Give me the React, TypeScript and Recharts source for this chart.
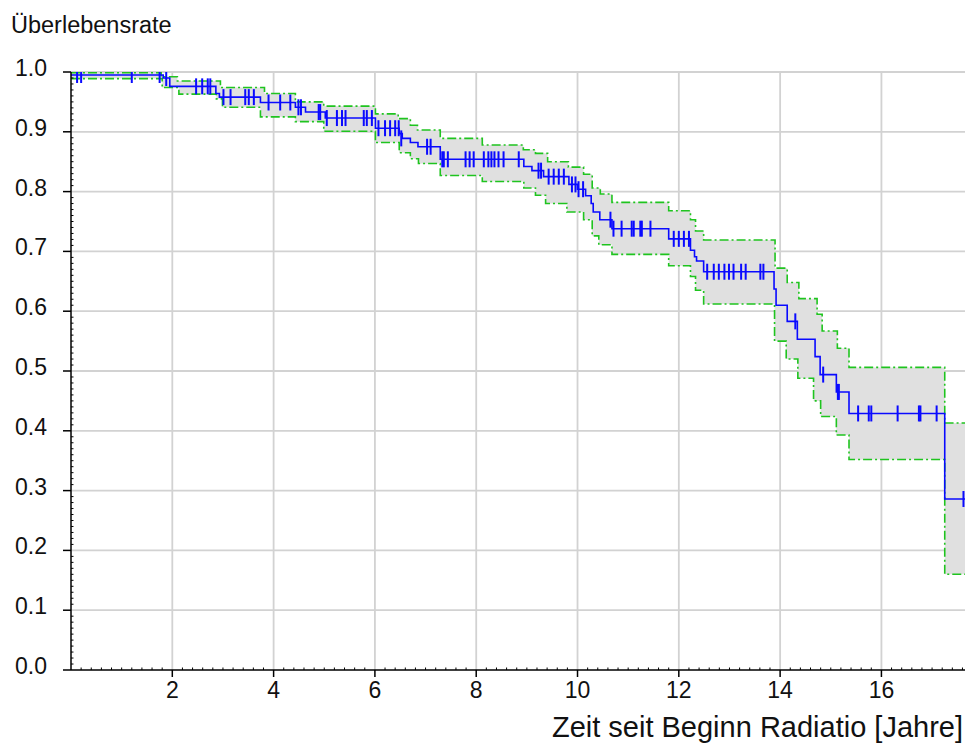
import React from "react";
import {
  ComposedChart,
  Line,
  Area,
  Scatter,
  XAxis,
  YAxis,
  CartesianGrid,
} from "recharts";

// ---- Kaplan-Meier estimate (step starts) ----
const survTimes = [0, 1.82, 1.95, 2.86, 2.93, 3.74, 4.43, 4.63, 5.02, 6.01, 6.48, 6.54, 6.7, 6.85, 7.29, 8.94, 9.1, 9.33, 9.83, 10.0, 10.16, 10.27, 10.31, 10.44, 10.68, 11.8, 12.23, 12.31, 12.35, 12.49, 13.88, 13.92, 14.14, 14.34, 14.69, 14.79, 15.11, 15.36, 17.25, 17.65];
const survValues = [0.995, 0.99, 0.976, 0.964, 0.958, 0.949, 0.941, 0.933, 0.923, 0.906, 0.897, 0.889, 0.882, 0.875, 0.854, 0.842, 0.835, 0.825, 0.812, 0.804, 0.793, 0.78, 0.766, 0.753, 0.738, 0.721, 0.702, 0.691, 0.684, 0.666, 0.637, 0.61, 0.583, 0.553, 0.524, 0.494, 0.465, 0.429, 0.286, 0.286];

// ---- upper confidence bound ----
const upperTimes = [0, 1.78, 2.1, 2.95, 3.82, 4.43, 4.99, 6.01, 6.46, 6.7, 6.84, 7.29, 8.12, 8.93, 9.17, 9.41, 9.82, 10.12, 10.29, 10.45, 10.68, 11.8, 12.23, 12.33, 12.49, 13.9, 14.14, 14.37, 14.73, 14.83, 15.13, 15.36, 17.25, 17.65];
const upperValues = [0.999, 0.992, 0.985, 0.974, 0.964, 0.95, 0.943, 0.93, 0.922, 0.911, 0.903, 0.889, 0.878, 0.87, 0.864, 0.85, 0.841, 0.829, 0.806, 0.796, 0.782, 0.768, 0.753, 0.734, 0.719, 0.672, 0.648, 0.621, 0.595, 0.567, 0.538, 0.506, 0.413, 0.413];

// ---- lower confidence bound ----
const lowerTimes = [0, 1.8, 2.13, 2.87, 2.99, 3.74, 4.43, 4.99, 6.01, 6.48, 6.7, 6.86, 7.29, 8.12, 8.94, 9.17, 9.37, 9.79, 10.12, 10.29, 10.42, 10.68, 11.8, 12.23, 12.33, 12.49, 13.89, 14.12, 14.35, 14.66, 14.8, 15.11, 15.36, 17.25, 17.65];
const lowerValues = [0.989, 0.974, 0.963, 0.955, 0.941, 0.925, 0.917, 0.901, 0.882, 0.865, 0.855, 0.847, 0.827, 0.817, 0.806, 0.794, 0.78, 0.766, 0.753, 0.726, 0.711, 0.695, 0.676, 0.658, 0.635, 0.612, 0.55, 0.52, 0.488, 0.45, 0.424, 0.393, 0.352, 0.16, 0.16];

// ---- censored observations ----
const censorTimes = [0.12, 0.2, 1.2, 1.75, 1.88, 2.47, 2.59, 2.7, 2.75, 3.01, 3.15, 3.44, 3.51, 3.61, 3.9, 4.13, 4.33, 4.49, 4.54, 4.89, 4.92, 5.05, 5.25, 5.35, 5.42, 5.78, 5.84, 5.94, 6.07, 6.2, 6.3, 6.4, 6.47, 6.52, 7.03, 7.1, 7.33, 7.36, 7.44, 7.79, 7.87, 7.95, 8.15, 8.24, 8.3, 8.36, 8.44, 8.54, 8.84, 9.23, 9.28, 9.43, 9.53, 9.63, 9.73, 9.89, 9.96, 10.02, 10.11, 10.65, 10.71, 10.87, 11.07, 11.11, 11.24, 11.27, 11.44, 11.9, 12.0, 12.1, 12.2, 12.56, 12.69, 12.79, 12.9, 12.99, 13.08, 13.23, 13.32, 13.61, 13.67, 14.3, 14.85, 15.14, 15.16, 15.54, 15.75, 15.8, 16.32, 16.74, 16.77, 17.09, 17.62];
const censorValues = [0.995, 0.995, 0.995, 0.995, 0.99, 0.976, 0.976, 0.976, 0.976, 0.958, 0.958, 0.958, 0.958, 0.958, 0.949, 0.949, 0.949, 0.941, 0.941, 0.933, 0.933, 0.923, 0.923, 0.923, 0.923, 0.923, 0.923, 0.923, 0.906, 0.906, 0.906, 0.906, 0.906, 0.889, 0.875, 0.875, 0.854, 0.854, 0.854, 0.854, 0.854, 0.854, 0.854, 0.854, 0.854, 0.854, 0.854, 0.854, 0.854, 0.835, 0.835, 0.825, 0.825, 0.825, 0.825, 0.812, 0.812, 0.804, 0.804, 0.753, 0.738, 0.738, 0.738, 0.738, 0.738, 0.738, 0.738, 0.721, 0.721, 0.721, 0.721, 0.666, 0.666, 0.666, 0.666, 0.666, 0.666, 0.666, 0.666, 0.666, 0.666, 0.583, 0.494, 0.465, 0.465, 0.429, 0.429, 0.429, 0.429, 0.429, 0.429, 0.429, 0.286];

// ---- axes ----
const xMajorTicks = [2, 4, 6, 8, 10, 12, 14, 16];
const xTickLabels = ["2", "4", "6", "8", "10", "12", "14", "16"];
const yMajorTicks = [0, 0.1, 0.2, 0.3, 0.4, 0.5, 0.6, 0.7, 0.8, 0.9, 1.0];
const yTickLabels = ["0.0", "0.1", "0.2", "0.3", "0.4", "0.5", "0.6", "0.7", "0.8", "0.9", "1.0"];
const X_MAX = 17.65;

const FONT = "'Liberation Sans', Arial, Helvetica, sans-serif";
const BLUE = "#0a0aff";
const GREEN = "#1fc41f";

const xAllTicks: number[] = [];
for (let k = 1; k <= 88; k++) xAllTicks.push(Math.round(k * 2) / 10);
const yAllTicks: number[] = [];
for (let k = 0; k <= 100; k++) yAllTicks.push(k / 100);

const toSeries = (ts: number[], vs: number[]) => ts.map((t, i) => ({ t, v: vs[i] }));
const stepAt = (ts: number[], vs: number[], t: number) => {
  let v = vs[0];
  for (let i = 0; i < ts.length; i++) if (ts[i] <= t + 1e-9) v = vs[i];
  return v;
};

const survData = toSeries(survTimes, survValues);
const upperData = toSeries(upperTimes, upperValues);
const lowerData = toSeries(lowerTimes, lowerValues);
const censorData = censorTimes.map((t, i) => ({ t, c: censorValues[i] }));
const bandTimes = Array.from(new Set([...upperTimes, ...lowerTimes])).sort((a, b) => a - b);
const bandData = bandTimes.map((t) => ({
  t,
  band: [stepAt(lowerTimes, lowerValues, t), stepAt(upperTimes, upperValues, t)],
}));

const YTick = (props: any) => {
  const { x, y, payload } = props;
  const k = Math.round(payload.value * 100);
  if (k % 10 === 0) {
    const idx = yMajorTicks.findIndex((v) => Math.round(v * 100) === k);
    return (
      <g>
        <line x1={x - 8} x2={x} y1={y} y2={y} stroke="#000" strokeWidth={1.5} />
        <text x={x - 24} y={y + 4} textAnchor="end" fontSize={23} fontFamily={FONT} fill="#111">
          {yTickLabels[idx]}
        </text>
      </g>
    );
  }
  return <line x1={x} x2={x + 2.5} y1={y} y2={y} stroke="#000" strokeWidth={1} />;
};

const XTick = (props: any) => {
  const { x, y, payload } = props;
  const v = payload.value;
  const idx = xMajorTicks.findIndex((m) => Math.abs(m - v) < 1e-6);
  if (idx >= 0) {
    return (
      <g>
        <line x1={x} x2={x} y1={y} y2={y + 7} stroke="#000" strokeWidth={1.5} />
        <text x={x} y={y + 28} textAnchor="middle" fontSize={23} fontFamily={FONT} fill="#111">
          {xTickLabels[idx]}
        </text>
      </g>
    );
  }
  return <line x1={x} x2={x} y1={y - 2.5} y2={y} stroke="#000" strokeWidth={1} />;
};

const CensorMark = (props: any) => {
  const { cx, cy } = props;
  return <line x1={cx} x2={cx} y1={cy - 8} y2={cy + 8} stroke={BLUE} strokeWidth={2} />;
};

export default function App() {
  return (
    <div style={{ position: "absolute", left: 0, top: 0, width: 970, height: 743, background: "#fff" }}>
      <ComposedChart width={970} height={743} margin={{ top: 72, right: 5, bottom: 33, left: 0 }}>
        <CartesianGrid
          stroke="#d2d2d2"
          strokeWidth={1.8}
          horizontalValues={yMajorTicks.filter((v) => v > 0)}
          verticalValues={xMajorTicks}
        />
        <XAxis
          type="number"
          dataKey="t"
          domain={[0, X_MAX]}
          allowDataOverflow
          ticks={xAllTicks}
          interval={0}
          tick={<XTick />}
          tickLine={false}
          tickSize={0.001}
          tickMargin={0}
          height={40}
          axisLine={{ stroke: "#000", strokeWidth: 1.5 }}
        />
        <YAxis
          type="number"
          domain={[0, 1]}
          allowDataOverflow
          ticks={yAllTicks}
          interval={0}
          tick={<YTick />}
          tickLine={false}
          tickSize={0.001}
          tickMargin={0}
          width={71}
          axisLine={{ stroke: "#000", strokeWidth: 1.5 }}
        />
        <Area
          data={bandData}
          dataKey="band"
          type="stepAfter"
          fill="#e0e0e0"
          fillOpacity={1}
          stroke="none"
          isAnimationActive={false}
          dot={false}
          activeDot={false}
        />
        <Line
          data={upperData}
          dataKey="v"
          type="stepAfter"
          stroke={GREEN}
          strokeWidth={1.6}
          strokeDasharray="9 3 2 3"
          dot={false}
          activeDot={false}
          isAnimationActive={false}
        />
        <Line
          data={lowerData}
          dataKey="v"
          type="stepAfter"
          stroke={GREEN}
          strokeWidth={1.6}
          strokeDasharray="9 3 2 3"
          dot={false}
          activeDot={false}
          isAnimationActive={false}
        />
        <Line
          data={survData}
          dataKey="v"
          type="stepAfter"
          stroke={BLUE}
          strokeWidth={1.6}
          dot={false}
          activeDot={false}
          isAnimationActive={false}
        />
        <Scatter data={censorData} dataKey="c" shape={<CensorMark />} isAnimationActive={false} />
      </ComposedChart>
      <svg
        width={970}
        height={743}
        style={{ position: "absolute", left: 0, top: 0, pointerEvents: "none" }}
      >
        <text x={11} y={33} fontSize={23.5} fontFamily={FONT} fill="#111">
          Überlebensrate
        </text>
        <text x={963} y={737} textAnchor="end" fontSize={29} fontFamily={FONT} fill="#111">
          Zeit seit Beginn Radiatio [Jahre]
        </text>
      </svg>
    </div>
  );
}
